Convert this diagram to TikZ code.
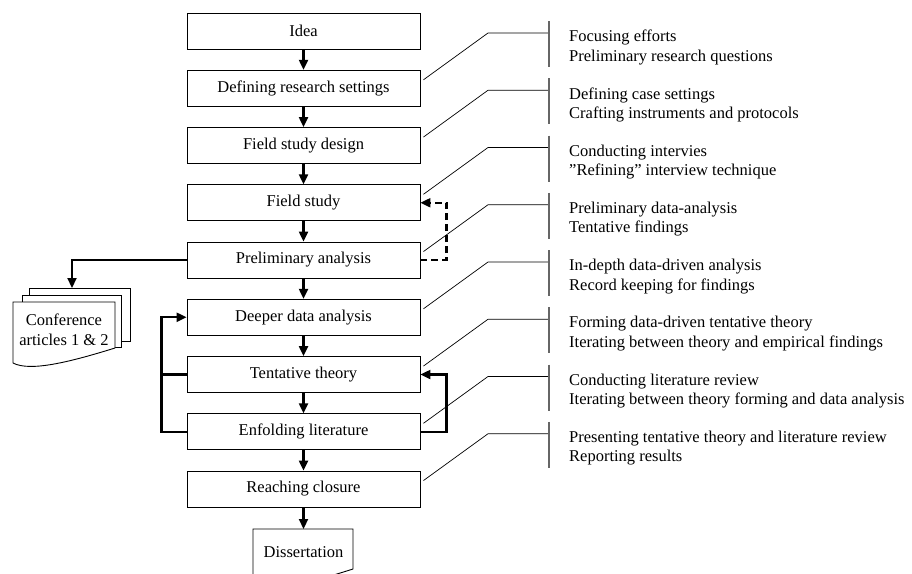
\documentclass[tikz,border=0pt]{standalone}
\usepackage{fontspec}
\setmainfont{Liberation Serif}
\usetikzlibrary{arrows.meta}
\tikzset{
  stage/.style={draw, line width=0.9pt, minimum width=233pt, minimum height=36pt, inner sep=0pt, fill=white},
  flow/.style={line width=2.2pt, -{Triangle[length=10pt,width=9pt]}},
  flowplain/.style={line width=2.2pt},
  feedback/.style={flow, dash pattern=on 7pt off 4pt},
  calloutline/.style={line width=0.7pt},
  bracebar/.style={line width=1.1pt, draw=black!60},
  note/.style={anchor=west, inner sep=0pt, align=left},
  docpage/.style={draw, line width=0.9pt, fill=white},
  doctext/.style={inner sep=0pt, align=center},
}
\begin{document}
\begin{tikzpicture}[x=1pt, y=-1pt, font=\fontsize{16.5}{19.5}\selectfont]
\useasboundingbox (0,0) rectangle (912,573);
\clip (0,0) rectangle (912,573);
\fill[white] (0,0) rectangle (912,573);

% process stages
\foreach \i/\txt in {0/Idea, 1/Defining research settings, 2/Field study design,
  3/Field study, 4/Preliminary analysis, 5/Deeper data analysis,
  6/Tentative theory, 7/Enfolding literature, 8/Reaching closure}
  \node[stage] (b\i) at (303.5, {31+57.25*\i}) {\txt};

% main flow
\foreach \i [evaluate=\i as \n using int(\i+1)] in {0,...,7}
  \draw[flow] (b\i) -- (b\n);

% dissertation document
\draw[docpage] (253,529) -- (353,529) -- (353,569)
  .. controls (309,583) and (270,593) .. (253,584) -- cycle;
\node[doctext, minimum width=100pt, minimum height=40pt, anchor=north] (diss) at (303.5,529) {};
\node[doctext] (disstext) at (303.5,552) {Dissertation};
\draw[flow] (b8.south) -- (diss.north);

% conference articles stack
\draw[docpage] (29,288) rectangle (130,341);
\draw[docpage] (22,295) rectangle (121,347);
\draw[docpage] (13,302) -- (115,302) -- (115,348)
  .. controls (70,362) and (30,372) .. (13,363) -- cycle;
\node[doctext] (conf) at (64,330) {Conference\\articles 1 \& 2};
\coordinate (confin) at (72,288);
\draw[flow] (b4.west) -| (confin);

% feedback loops
\draw[feedback] (b4.east) -- ++(26,0) |- (b3.east);
\draw[flowplain] (b6.west) -- ++(-25,0);
\draw[flow] (b7.west) -- ++(-25,0) |- (b5.west);
\draw[flow] (b7.east) -- ++(26,0) |- (b6.east);

% callouts with descriptions
\foreach \j/\txt in {
  0/{Focusing efforts\\Preliminary research questions},
  1/{Defining case settings\\Crafting instruments and protocols},
  2/{Conducting intervies\\”Refining” interview technique},
  3/{Preliminary data-analysis\\Tentative findings},
  4/{In-depth data-driven analysis\\Record keeping for findings},
  5/{Forming data-driven tentative theory\\Iterating between theory and empirical findings},
  6/{Conducting literature review\\Iterating between theory forming and data analysis},
  7/{Presenting tentative theory and literature review\\Reporting results}}
{
  \pgfmathtruncatemacro{\k}{\j+1}
  \coordinate (knee\j) at (488, {33+57.25*\j});
  \coordinate (bar\j) at (549, {33+57.25*\j});
  \draw[calloutline] ([xshift=3pt, yshift=-10pt]b\k.north east) -- (knee\j) -- (bar\j);
  \draw[bracebar] (549, {21+57.25*\j}) -- (549, {67+57.25*\j});
  \node[note] (note\j) at (569, {47.5+57.25*\j}) {\txt};
}
\end{tikzpicture}
\end{document}
